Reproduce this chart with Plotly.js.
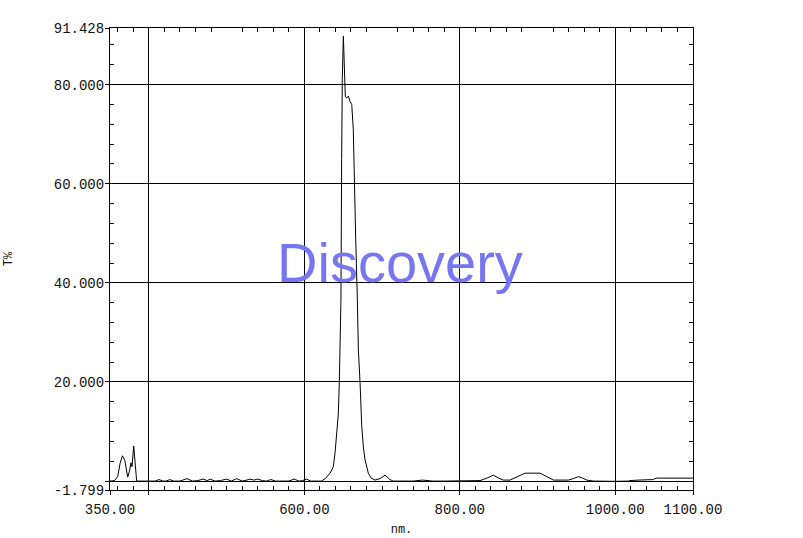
<!DOCTYPE html>
<html>
<head>
<meta charset="utf-8">
<script src="https://cdn.plot.ly/plotly-3.0.1.min.js"></script>
<style>html,body{margin:0;padding:0;background:#fff;}#chart{width:803px;height:538px;}</style>
</head>
<body>
<div id="chart"></div>
<script>
// Wavelength (nm)
const wavelength = [350, 356, 360, 363, 366, 369, 372.8, 375, 377, 378.3, 380.5, 382, 384.3, 390, 400, 408, 413, 418, 422, 427, 432, 440, 449, 456, 463, 470, 475, 479, 485, 492, 500, 506, 513, 520, 526, 530, 535, 540, 546, 551, 557, 563, 570, 580, 587, 593, 598, 603, 608, 613, 618, 622, 627, 631, 633, 635.5, 637.3, 639.5, 641.7, 643.7, 645, 646.7, 647.1, 648, 648.8, 650.2, 651.2, 652.7, 654.5, 656.6, 658.8, 661, 663, 664.3, 666.1, 668.2, 669.5, 671.7, 673.9, 675.9, 678.1, 682.3, 686, 690.9, 697.4, 703.8, 710.2, 714.5, 725, 740, 752, 765, 780, 800, 815, 826, 835, 843, 850, 856, 864.6, 873.3, 883.9, 893, 903.2, 911.9, 920.4, 930, 939.7, 946, 952.5, 958, 963.3, 971.8, 985, 1000, 1016.8, 1019, 1030, 1040.5, 1048, 1053.3, 1070, 1085, 1100];
// Transmittance (T%)
const transmittance = [0.0, 0.1, 1.0, 3.6, 5.1, 4.2, 0.8, 2.0, 3.7, 2.9, 7.1, 4.0, 0.0, 0.0, 0.0, 0.0, 0.3, 0.0, 0.0, 0.3, 0.0, 0.0, 0.5, 0.0, 0.1, 0.4, 0.1, 0.4, 0.0, 0.1, 0.4, 0.0, 0.5, 0.0, 0.2, 0.4, 0.2, 0.4, 0.1, 0.0, 0.3, 0.0, 0.0, 0.0, 0.4, 0.0, 0.1, 0.4, 0.0, 0.0, 0.0, 0.0, 0.5, 1.2, 1.6, 2.3, 2.9, 5.7, 9.7, 13.5, 19.8, 29.9, 36.6, 64.9, 81.0, 89.8, 85.0, 77.6, 77.3, 77.7, 76.6, 76.0, 70.9, 60.2, 48.7, 36.6, 26.5, 19.8, 11.0, 6.9, 4.3, 1.6, 0.6, 0.2, 0.5, 1.2, 0.3, 0.0, 0.0, 0.0, 0.2, 0.0, 0.0, 0.0, 0.0, 0.1, 0.6, 1.2, 0.6, 0.2, 0.2, 0.8, 1.6, 1.6, 1.6, 0.9, 0.2, 0.2, 0.2, 0.5, 0.9, 0.6, 0.2, 0.0, -0.05, -0.05, 0.0, 0.1, 0.2, 0.2, 0.3, 0.6, 0.6, 0.6, 0.6];

const xRange = [350, 1100];
const yRange = [-1.799, 91.428];
const xTickVals = [350, 400, 600, 800, 1000, 1100];
const xTickText = ['350.00', '', '600.00', '800.00', '1000.00', '1100.00'];
const yTickVals = [-1.799, 0, 20, 40, 60, 80, 91.428];
const yTickText = ['-1.799', '', '20.000', '40.000', '60.000', '80.000', '91.428'];
const xTitle = 'nm.';
const yTitle = 'T%';
const watermark = 'Discovery';

const tickFont = {family: 'Liberation Mono, DejaVu Sans Mono, monospace', size: 14, color: '#111'};
const titleFont = {family: 'Liberation Mono, DejaVu Sans Mono, monospace', size: 12, color: '#111'};

const traces = [
  {x: wavelength, y: transmittance, type: 'scatter', mode: 'lines',
   line: {color: '#000', width: 1}, hoverinfo: 'skip', showlegend: false},
  {x: wavelength, y: transmittance, type: 'scatter', mode: 'lines', xaxis: 'x2', yaxis: 'y2',
   line: {color: 'rgba(0,0,0,0)', width: 1}, hoverinfo: 'skip', showlegend: false}
];

const layout = {
  width: 803, height: 538,
  margin: {l: 110, r: 110, t: 28, b: 48},
  paper_bgcolor: '#fff', plot_bgcolor: '#fff',
  showlegend: false,
  xaxis: {
    range: xRange, tickmode: 'array', tickvals: xTickVals, ticktext: xTickText,
    showgrid: true, gridcolor: '#000', gridwidth: 1, zeroline: false,
    showline: true, linecolor: '#000', linewidth: 1, mirror: true,
    ticks: 'outside', ticklen: 4, tickcolor: '#000', tickfont: tickFont,
    ticklabelstandoff: 2,
    minor: {tickmode: 'linear', tick0: 0, dtick: 20, ticks: 'inside', ticklen: 4, tickcolor: '#000', showgrid: false},
    title: {text: xTitle, font: titleFont, standoff: 7},
    automargin: false, fixedrange: true
  },
  yaxis: {
    range: yRange, tickmode: 'array', tickvals: yTickVals, ticktext: yTickText,
    showgrid: true, gridcolor: '#000', gridwidth: 1, zeroline: false,
    showline: true, linecolor: '#000', linewidth: 1, mirror: true,
    ticks: 'outside', ticklen: 4, tickcolor: '#000', tickfont: tickFont,
    ticklabelstandoff: -2,
    minor: {tickmode: 'linear', tick0: 0, dtick: 4, ticks: 'inside', ticklen: 4, tickcolor: '#000', showgrid: false},
    title: {text: yTitle, font: titleFont, standoff: 38},
    automargin: false, fixedrange: true
  },
  xaxis2: {
    overlaying: 'x', side: 'top', range: xRange, showticklabels: false, showgrid: false,
    zeroline: false, showline: false, ticks: '',
    minor: {tickmode: 'linear', tick0: 0, dtick: 20, ticks: 'inside', ticklen: 4, tickcolor: '#000', showgrid: false},
    fixedrange: true
  },
  yaxis2: {
    overlaying: 'y', side: 'right', range: yRange, showticklabels: false, showgrid: false,
    zeroline: false, showline: false, ticks: '',
    minor: {tickmode: 'linear', tick0: 0, dtick: 4, ticks: 'inside', ticklen: 4, tickcolor: '#000', showgrid: false},
    fixedrange: true
  },
  annotations: [{
    text: watermark, xref: 'paper', yref: 'paper', x: 0.497, y: 0.492,
    xanchor: 'center', yanchor: 'middle', showarrow: false,
    font: {family: 'Liberation Sans, Arial, sans-serif', size: 56, color: 'rgb(118,118,240)'}
  }]
};

Plotly.newPlot('chart', traces, layout, {staticPlot: true, displayModeBar: false});
</script>
</body>
</html>
